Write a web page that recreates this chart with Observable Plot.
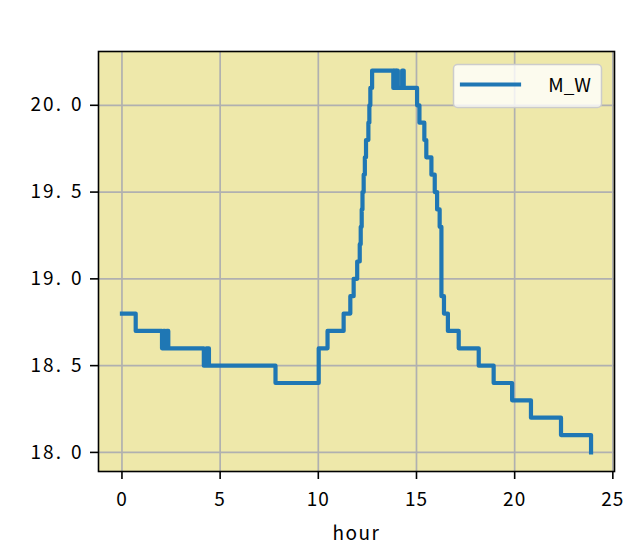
<!DOCTYPE html>
<html>
<head>
<meta charset="utf-8">
<script src="https://cdn.jsdelivr.net/npm/d3@7"></script>
<script src="https://cdn.jsdelivr.net/npm/@observablehq/plot@0.6"></script>
<style>
  html, body { margin: 0; padding: 0; background: white; }
  #chart { width: 628px; height: 553px; }
</style>
</head>
<body>
<div id="chart"></div>
<script>
// hour at which each reading starts (step-after), and the reading value
const hours = [0, 0.7, 2.04, 2.12, 2.2, 2.28, 2.36, 2.47, 4.17, 4.3, 4.43, 7.82, 10.02, 10.47,
  11.29, 11.63, 11.80, 11.98, 12.11, 12.16, 12.21, 12.25, 12.31, 12.37, 12.43, 12.55,
  12.60, 12.65, 12.74, 13.82, 13.88, 13.94, 14.0, 14.05, 14.27, 14.35, 15.03, 15.15,
  15.4, 15.5, 15.76, 15.93, 16.05, 16.18, 16.27, 16.40, 16.60, 17.15, 18.17, 18.93,
  19.87, 20.83, 22.36, 23.89];
const temps = [18.8, 18.7, 18.6, 18.7, 18.6, 18.7, 18.6, 18.6, 18.5, 18.6, 18.5, 18.4, 18.6, 18.7,
  18.8, 18.9, 19.0, 19.1, 19.2, 19.3, 19.4, 19.5, 19.6, 19.7, 19.8, 19.9,
  20.0, 20.1, 20.2, 20.1, 20.2, 20.1, 20.2, 20.1, 20.2, 20.1, 20.0, 19.9,
  19.8, 19.7, 19.6, 19.5, 19.4, 19.3, 18.9, 18.8, 18.7, 18.6, 18.5, 18.4,
  18.3, 18.2, 18.1, 18.0];
const seriesName = "M_W";
const xTicks = [0, 5, 10, 15, 20, 25];
const yTicks = [18.0, 18.5, 19.0, 19.5, 20.0];
const xLabel = "hour";

const data = hours.map((h, i) => ({hour: h, value: temps[i]}));

const xmin = d3.min(hours), xmax = d3.max(hours);
const ymin = d3.min(temps), ymax = d3.max(temps);
const xpad = (xmax - xmin) * 0.05, ypad = (ymax - ymin) * 0.05;

const chart = Plot.plot({
  width: 628,
  height: 553,
  marginLeft: 98,
  marginRight: 14,
  marginTop: 51,
  marginBottom: 82,
  style: {fontFamily: "'Noto Sans CJK JP', 'Noto Sans', sans-serif", fontSize: "19px", background: "white", color: "black"},
  x: {domain: [xmin - xpad, xmax + xpad]},
  y: {domain: [ymin - ypad, ymax + ypad]},
  marks: [
    Plot.frame({fill: "#eee8aa", stroke: null}),
    Plot.gridX(xTicks, {stroke: "#b0b0b0", strokeOpacity: 1, strokeWidth: 1.7}),
    Plot.gridY(yTicks, {stroke: "#b0b0b0", strokeOpacity: 1, strokeWidth: 1.7}),
    Plot.line(data, {x: "hour", y: "value", curve: "step-after", stroke: "#1f77b4",
      strokeWidth: 4.2, strokeLinecap: "square", strokeLinejoin: "round"}),
    Plot.frame({stroke: "black", strokeWidth: 1.6}),
    Plot.axisX(xTicks, {tickSize: 8, tickPadding: 13, strokeWidth: 1.6, tickFormat: d3.format("d"),
      label: xLabel, labelAnchor: "center", labelArrow: "none", labelOffset: 68, fontSize: 19}),
    Plot.axisY(yTicks, {tickSize: 8, tickPadding: 7, strokeWidth: 1.6, tickFormat: d3.format(".1f"),
      label: null, fontSize: 19})
  ]
});

document.getElementById("chart").appendChild(chart);

const svg = d3.select(chart);

// widen y tick labels to mimic the reference's Japanese gothic spacing ("20. 0")
svg.selectAll('g[aria-label="y-axis tick label"] text').each(function () {
  const t = d3.select(this);
  const s = t.text();
  const i = s.indexOf(".");
  if (i < 0) return;
  t.text("").style("letter-spacing", "2px");
  t.append("tspan").text(s.slice(0, i + 1));
  t.append("tspan").attr("dx", 8).text(s.slice(i + 1));
});
svg.selectAll('g[aria-label="x-axis tick label"] text').style("letter-spacing", "1px");
svg.selectAll('g[aria-label="x-axis label"] text').style("letter-spacing", "1.5px");

// legend (upper right, matplotlib style)
const lg = svg.append("g");
lg.append("rect").attr("x", 453.5).attr("y", 64.5).attr("width", 148).attr("height", 43)
  .attr("rx", 4).attr("fill", "white").attr("fill-opacity", 0.8)
  .attr("stroke", "#cccccc").attr("stroke-width", 1.5);
lg.append("line").attr("x1", 462).attr("x2", 519).attr("y1", 84.5).attr("y2", 84.5)
  .attr("stroke", "#1f77b4").attr("stroke-width", 4.2).attr("stroke-linecap", "square");
lg.append("text").attr("x", 591).attr("y", 92).attr("text-anchor", "end")
  .attr("font-size", 19).attr("fill", "black").text(seriesName);
</script>
</body>
</html>
